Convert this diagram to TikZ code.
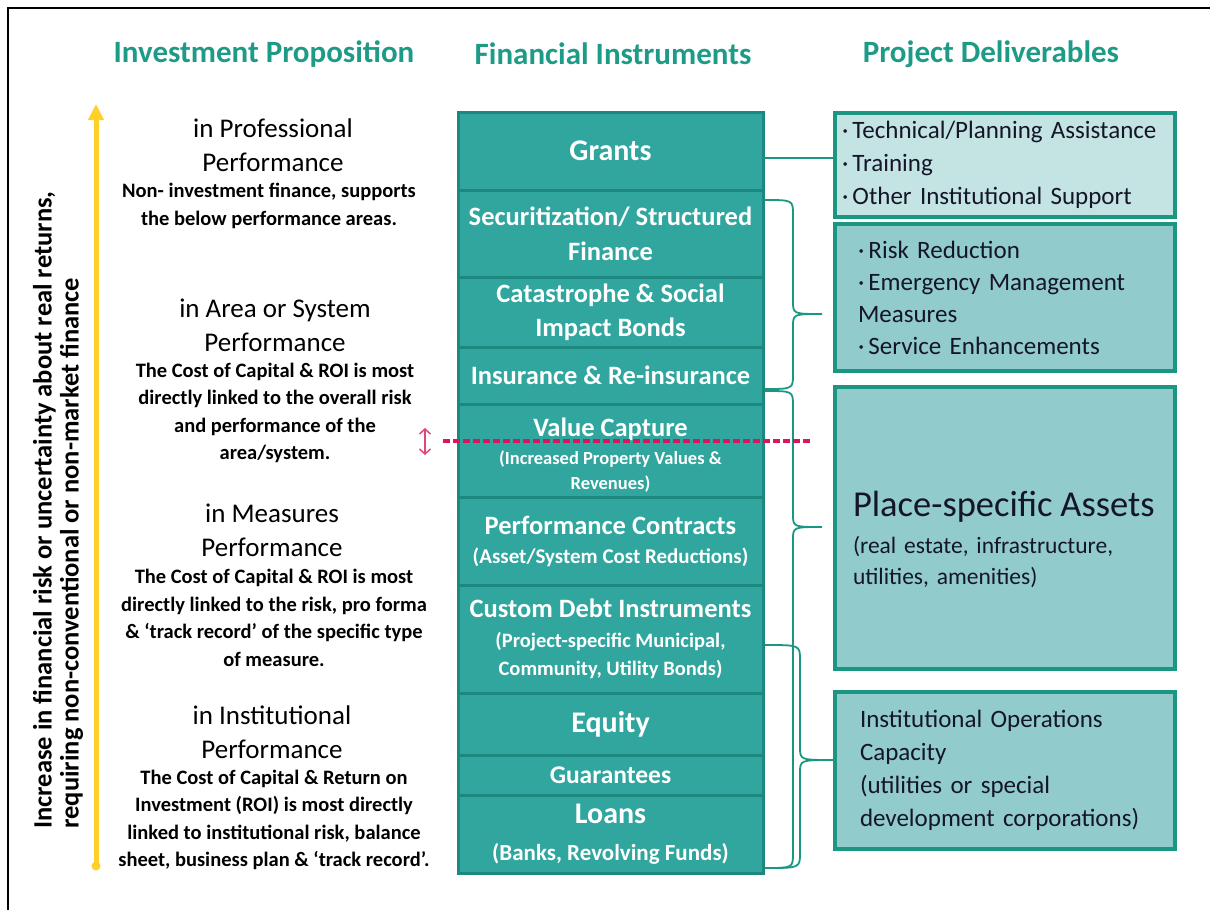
\documentclass[tikz,border=0pt]{standalone}
\usepackage{fontspec}
\setmainfont{Carlito}
\usetikzlibrary{arrows.meta,positioning}

\definecolor{hdteal}{RGB}{30,155,135}
\definecolor{instrfill}{RGB}{48,166,158}
\definecolor{instredge}{RGB}{28,136,126}
\definecolor{delivfill}{RGB}{146,203,203}
\definecolor{delivlight}{RGB}{196,228,228}
\definecolor{delivedge}{RGB}{26,150,130}
\definecolor{delivtext}{RGB}{20,22,40}
\definecolor{riskline}{RGB}{220,20,95}
\definecolor{arrowgold}{RGB}{255,208,40}

\newcommand{\fsz}[2]{\fontsize{#1}{#2}\selectfont}
\newcommand{\subtxt}[2]{{\fsz{#1}{#1}#2}}
% curly brace: x-left, x-spine, y-top, y-bottom, y-tip, x-tip
\newcommand{\curly}[6]{%
  \draw[brc] (#1,#3) .. controls (#2,#3) .. (#2,#3+15) -- (#2,#5-13)
    .. controls (#2,#5) .. (#6,#5) .. controls (#2,#5) .. (#2,#5+13)
    -- (#2,#4-15) .. controls (#2,#4) .. (#1,#4);}

\tikzset{
  header/.style={font=\bfseries\fsz{31}{36}, text=hdteal},
  perf/.style={align=center, font=\fsz{27}{34}},
  perfnote/.style={align=center, font=\bfseries\fsz{20.5}{27.5}},
  instr/.style={draw=instredge, line width=3pt, fill=instrfill, text=white,
    minimum width=305pt, inner sep=0pt, outer sep=0pt, align=center,
    font=\bfseries\fsz{26.5}{34}},
  deliv/.style={draw=delivedge, line width=3.5pt, fill=delivfill, text=delivtext,
    inner ysep=0pt, align=left, font=\fsz{25}{33}},
  brc/.style={delivedge, line width=1.8pt},
  link/.style={delivedge, line width=1.8pt},
}

\begin{document}
\begin{tikzpicture}[x=1pt,y=-1pt]
  \useasboundingbox (0,0) rectangle (1210,910);
  \draw[line width=2pt] (8,910) -- (8,8) -- (1210,8);

  % column headers
  \node[header] (hdprop) at (264,54) {Investment Proposition};
  \node[header] (hdinstr) at (613,54) {Financial Instruments};
  \node[header] (hddeliv) at (991,54) {Project Deliverables};

  % risk axis
  \coordinate (axisbot) at (96,866);
  \coordinate (axistop) at (96,104);
  \draw[line width=5pt, arrowgold, -{Triangle[length=16pt,width=15pt]}] (axisbot) -- (axistop);
  \fill[arrowgold] (axisbot) circle (4.5pt);
  \node[rotate=90, align=left, font=\bfseries\fsz{26.5}{27}] (riskaxis) at (58,510)
    {Increase in financial risk or uncertainty about real returns,\\requiring non-conventional or non-market finance};

  % investment propositions
  \node[perf] (profttl) at (273,145) {in Professional\\Performance};
  \node[perfnote] (profnote) at (269,206) {Non- investment finance, supports\\the below performance areas.};
  \node[perf] (areattl) at (275,325) {in Area or System\\Performance};
  \node[perfnote] (areanote) at (275,413) {The Cost of Capital \& ROI is most\\directly linked to the overall risk\\and performance of the\\area/system.};
  \node[perf] (measttl) at (272,530) {in Measures\\Performance};
  \node[perfnote] (measnote) at (274,618) {The Cost of Capital \& ROI is most\\directly linked to the risk, pro forma\\\& `track record' of the specific type\\of measure.};
  \node[perf] (instttl) at (272,732) {in Institutional\\Performance};
  \node[perfnote] (instnote) at (274,820) {The Cost of Capital \& Return on\\Investment (ROI) is most directly\\linked to institutional risk, balance\\sheet, business plan \& `track record'.};

  % financial instruments
  \node[instr, minimum height=78pt] (grants) at (610.5,151) {\fsz{30}{34}Grants};
  \node[instr, minimum height=87pt, below=0pt of grants] (secur) {Securitization/ Structured\\[1pt]Finance};
  \node[instr, minimum height=70pt, below=0pt of secur] (catas) {Catastrophe \& Social\\Impact Bonds};
  \node[instr, minimum height=57pt, below=0pt of catas] (insur) {Insurance \& Re-insurance};
  \node[instr, minimum height=93pt, below=0pt of insur] (value) {\rule{0pt}{28pt}Value Capture\\[-6pt]\subtxt{18.5}{(Increased Property Values \&}\\[-9pt]\subtxt{18.5}{Revenues)}};
  \node[instr, minimum height=88pt, below=0pt of value] (perfc) {Performance Contracts\\[-5pt]\subtxt{21}{(Asset/System Cost Reductions)}};
  \node[instr, minimum height=108pt, below=0pt of perfc] (custom) {Custom Debt Instruments\\[-4pt]\subtxt{20.5}{(Project-specific Municipal,}\\[-6pt]\subtxt{20.5}{Community, Utility Bonds)}};
  \node[instr, minimum height=62pt, below=0pt of custom] (equity) {\fsz{30}{34}Equity};
  \node[instr, minimum height=40pt, below=0pt of equity] (guar) {\fsz{25.5}{28}Guarantees};
  \node[instr, minimum height=78pt, below=0pt of guar] (loans) {{\fsz{30}{34}Loans}\\[3pt]\subtxt{23}{(Banks, Revolving Funds)}};

  % project deliverables
  \node[deliv, fill=delivlight, minimum height=104pt, inner xsep=7pt, text width=326pt] (delsupport) at (1005,165)
    {·\,Technical/Planning Assistance\\·\,Training\\·\,Other Institutional Support};
  \node[deliv, minimum height=147pt, inner xsep=23pt, text width=294pt, font=\fsz{25}{32}] (delmeasures) at (1005,297.5)
    {·\,Risk Reduction\\·\,Emergency Management\\Measures\\·\,Service Enhancements};
  \node[deliv, minimum height=282pt, inner xsep=18pt, text width=304pt, font=\fsz{23.5}{31}] (delassets) at (1005,528)
    {\rule{0pt}{48pt}{\fsz{36.5}{40}Place-specific Assets}\\[6pt](real estate, infrastructure,\\utilities, amenities)};
  \node[deliv, minimum height=157pt, inner xsep=25pt, text width=290pt] (delcapacity) at (1005,770.5)
    {Institutional Operations\\Capacity\\(utilities or special\\development corporations)};

  % connectors
  \coordinate (grantsout) at ([yshift=-7pt]grants.east);
  \draw[link] (grantsout) -- (grantsout -| delsupport.west);
  \curly{765}{793}{200}{389}{314}{822}
  \curly{765}{793}{391}{868}{527}{822}
  \curly{765}{800}{645}{868}{760}{833}

  % value capture threshold
  \coordinate (threshl) at (443,441);
  \coordinate (threshr) at (812,441);
  \draw[riskline, line width=4pt, dash pattern=on 7pt off 3pt] (threshl) -- (threshr);
  \coordinate (updown) at (425,428);
  \coordinate (updownb) at (425,455);
  \draw[riskline!80, line width=1.5pt, {Straight Barb[length=5pt,width=11pt]}-{Straight Barb[length=5pt,width=11pt]}] (updown) -- (updownb);
\end{tikzpicture}
\end{document}
